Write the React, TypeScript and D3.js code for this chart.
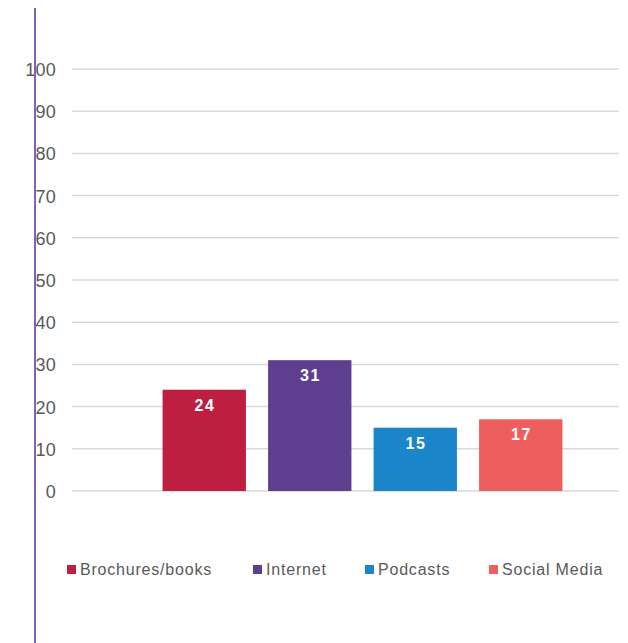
import React from "react";
import * as d3 from "d3";

const categories = ["Brochures/books", "Internet", "Podcasts", "Social Media"];
const values = [24, 31, 15, 17];
const colors = ["#BE1E3F", "#5E3F8F", "#1A85C8", "#EE5E5F"];
const yTicks = [0, 10, 20, 30, 40, 50, 60, 70, 80, 90, 100];
const legendX = [67, 253, 365, 489];

export default function App() {
  const W = 628, H = 643;
  const y = d3.scaleLinear().domain([0, 100]).range([491, 69]);
  const x = d3.scaleBand<string>().domain(categories).range([151.5, 573.5]).paddingInner(0.21).paddingOuter(0.105);
  const font = "'Liberation Sans', Arial, sans-serif";
  return (
    <div style={{ position: "fixed", left: 0, top: 0 }}>
      <svg width={W} height={H} style={{ display: "block", background: "#fff" }}>
        {yTicks.map((t) => (
          <g key={t}>
            <line x1={72} x2={619} y1={y(t)} y2={y(t)} stroke="#d9d9d9" strokeWidth={1.5} />
            <text x={56} y={y(t) + 7} textAnchor="end" fontFamily={font} fontSize={18} letterSpacing={0.2} fill="#595959">{t}</text>
          </g>
        ))}
        {categories.map((c, i) => (
          <g key={c}>
            <rect x={x(c)} y={y(values[i])} width={x.bandwidth()} height={y(0) - y(values[i])} fill={colors[i]} />
            <text x={(x(c) as number) + x.bandwidth() / 2 + 0.75} y={y(values[i]) + 21} textAnchor="middle" fontFamily={font} fontSize={16} fontWeight="bold" letterSpacing={1.5} fill="#ffffff">{values[i]}</text>
          </g>
        ))}
        <line x1={35} x2={35} y1={8} y2={643} stroke="#7F63B8" strokeWidth={2} />
        {categories.map((c, i) => (
          <g key={"l" + c}>
            <rect x={legendX[i]} y={565} width={9} height={9} fill={colors[i]} />
            <text x={legendX[i] + 13} y={574.5} fontFamily={font} fontSize={16} letterSpacing={0.8} fill="#595959">{c}</text>
          </g>
        ))}
      </svg>
    </div>
  );
}
